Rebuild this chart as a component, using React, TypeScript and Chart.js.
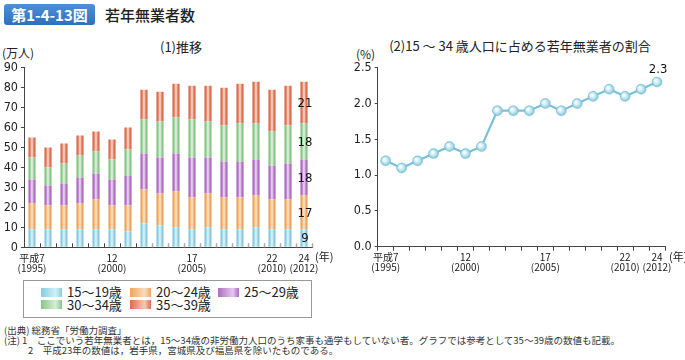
import React, { useEffect, useRef } from "react";
import { Chart, registerables } from "chart.js";

Chart.register(...registerables);

const years = ["1995","1996","1997","1998","1999","2000","2001","2002","2003","2004","2005","2006","2007","2008","2009","2010","2011","2012"];
const tickLabels: Record<number, string[]> = {
  0: ["平成7", "(1995)"],
  5: ["12", "(2000)"],
  10: ["17", "(2005)"],
  15: ["22", "(2010)"],
  17: ["24", "(2012)"],
};
const age15to19 = [9, 9, 9, 9, 9, 9, 8, 12, 11, 10, 9, 10, 9, 9, 10, 9, 9, 9];
const age20to24 = [13, 12, 12, 13, 15, 12, 13, 17, 16, 18, 16, 17, 16, 16, 16, 15, 15, 17];
const age25to29 = [12, 10, 11, 13, 13, 13, 15, 18, 18, 19, 20, 18, 18, 18, 18, 17, 18, 18];
const age30to34 = [11, 9, 10, 11, 11, 10, 13, 17, 18, 18, 19, 18, 18, 19, 18, 17, 19, 18];
const age35to39 = [10, 10, 10, 10, 10, 10, 11, 15, 15, 17, 17, 18, 19, 20, 21, 21, 20, 21];
const shareRate = [1.2, 1.1, 1.2, 1.3, 1.4, 1.3, 1.4, 1.9, 1.9, 1.9, 2.0, 1.9, 2.0, 2.1, 2.2, 2.1, 2.2, 2.3];

const seriesNames = ["15～19歳", "20～24歳", "25～29歳", "30～34歳", "35～39歳"];
const seriesColors = ["#86cde0", "#eea55e", "#ad6cbf", "#88c688", "#de6c4e"];
const seriesLight = ["#d2eef6", "#f9dcbc", "#e6c8ee", "#d4eed4", "#f5c8b8"];

const NUM_FONT = "'Liberation Sans Narrow', 'DejaVu Sans Condensed', 'Noto Sans', sans-serif";
const JP_FONT = "'Noto Sans CJK JP', 'Noto Sans', sans-serif";

function barGrad(i: number) {
  return (ctx: any) => {
    const chart = ctx.chart;
    const xs = chart.scales && chart.scales.x;
    if (!xs || ctx.type !== "data") return seriesColors[i];
    const cx = xs.getPixelForValue(ctx.dataIndex);
    if (!Number.isFinite(cx)) return seriesColors[i];
    const g = chart.ctx.createLinearGradient(cx - 3.6, 0, cx + 3.6, 0);
    g.addColorStop(0, seriesColors[i]);
    g.addColorStop(0.2, seriesColors[i]);
    g.addColorStop(0.42, seriesLight[i]);
    g.addColorStop(0.55, seriesLight[i]);
    g.addColorStop(0.8, seriesColors[i]);
    g.addColorStop(1, seriesColors[i]);
    return g;
  };
}

const barLabelPlugin = {
  id: "barLabels",
  afterDatasetsDraw(chart: any) {
    const c = chart.ctx;
    const last = years.length - 1;
    c.save();
    c.font = "13px " + NUM_FONT;
    c.fillStyle = "#111";
    c.textAlign = "center";
    c.textBaseline = "middle";
    chart.data.datasets.forEach((ds: any, di: number) => {
      const el = chart.getDatasetMeta(di).data[last];
      if (!el) return;
      c.fillText(String(ds.data[last]), el.x + 1, (el.y + el.base) / 2 + 1);
    });
    const xs = chart.scales.x;
    const bottom = chart.chartArea.bottom;
    for (let k = 1; k <= years.length; k++) {
      const px = Math.round(xs.getPixelForValue(k - 0.5)) + 0.5;
      c.strokeStyle = k <= 7 ? "#444" : "#aaa";
      c.lineWidth = k <= 7 ? 1 : 1.5;
      c.beginPath();
      c.moveTo(px, bottom);
      c.lineTo(px, bottom - 4);
      c.stroke();
    }
    c.restore();
  },
};

const lineLabelPlugin = {
  id: "lineLabel",
  afterDatasetsDraw(chart: any) {
    const c = chart.ctx;
    const last = shareRate.length - 1;
    const el = chart.getDatasetMeta(0).data[last];
    if (!el) return;
    c.save();
    c.font = "13px " + NUM_FONT;
    c.fillStyle = "#111";
    c.textAlign = "center";
    c.textBaseline = "bottom";
    c.fillText(shareRate[last].toFixed(1), el.x + 1, el.y - 6);
    c.restore();
  },
};

function pointGrad(ctx: any) {
  const chart = ctx.chart;
  const xs = chart.scales && chart.scales.x;
  const ys = chart.scales && chart.scales.y;
  if (!xs || !ys || ctx.type !== "data") return "#bfe6f2";
  const x = xs.getPixelForValue(ctx.dataIndex);
  const y = ys.getPixelForValue(shareRate[ctx.dataIndex]);
  if (!Number.isFinite(x) || !Number.isFinite(y)) return "#bfe6f2";
  const g = chart.ctx.createRadialGradient(x - 1.5, y - 1.5, 0.5, x, y, 5);
  g.addColorStop(0, "#ffffff");
  g.addColorStop(0.5, "#c6e9f4");
  g.addColorStop(1, "#7cc3d8");
  return g;
}

export default function App() {
  const leftRef = useRef<HTMLCanvasElement | null>(null);
  const rightRef = useRef<HTMLCanvasElement | null>(null);

  useEffect(() => {
    document.body.style.margin = "0";
    const axisColor = "#444";
    const left = new Chart(leftRef.current!, {
      type: "bar",
      data: {
        labels: years,
        datasets: [age15to19, age20to24, age25to29, age30to34, age35to39].map((d, i) => ({
          label: seriesNames[i],
          data: d,
          backgroundColor: barGrad(i),
          borderWidth: 0,
          barPercentage: 0.45,
          categoryPercentage: 1,
        })),
      },
      options: {
        animation: false,
        responsive: false,
        devicePixelRatio: 1,
        layout: { padding: { top: 27.7, right: 28, left: 0, bottom: 0 } },
        plugins: { legend: { display: false }, tooltip: { enabled: false } },
        scales: {
          x: {
            stacked: true,
            grid: { display: false, drawTicks: false },
            border: { display: true, color: axisColor, width: 1 },
            afterFit: (s: any) => { s.height = 27.7; },
            ticks: {
              autoSkip: false,
              maxRotation: 0,
              padding: 6,
              color: "#222",
              font: { size: 10, family: JP_FONT, lineHeight: 1.0 },
              callback: (_v: any, i: number) => tickLabels[i] || "",
            },
          },
          y: {
            stacked: true,
            min: 0,
            max: 90,
            grid: { display: true, drawOnChartArea: false, tickLength: 3, color: axisColor },
            border: { display: true, color: axisColor, width: 1 },
            afterFit: (s: any) => { s.width = 24; },
            ticks: { stepSize: 10, padding: 3, color: "#222", font: { size: 12.5, family: NUM_FONT } },
          },
        },
      },
      plugins: [barLabelPlugin],
    } as any);

    const right = new Chart(rightRef.current!, {
      type: "line",
      data: {
        labels: years,
        datasets: [
          {
            data: shareRate,
            borderColor: "#78c0d6",
            borderWidth: 2.2,
            pointRadius: 5,
            pointBorderWidth: 0.5,
            pointBorderColor: "#7ab8cc",
            pointBackgroundColor: pointGrad,
            tension: 0,
          },
        ],
      },
      options: {
        animation: false,
        responsive: false,
        devicePixelRatio: 1,
        layout: { padding: { top: 27.7, right: 20, left: 0, bottom: 0 } },
        plugins: { legend: { display: false }, tooltip: { enabled: false } },
        scales: {
          x: {
            offset: true,
            grid: { display: true, offset: true, drawOnChartArea: false, tickLength: 4, color: axisColor },
            border: { display: true, color: axisColor, width: 1 },
            afterFit: (s: any) => { s.height = 28.3; },
            ticks: {
              autoSkip: false,
              maxRotation: 0,
              padding: 2,
              color: "#222",
              font: { size: 10, family: JP_FONT, lineHeight: 1.0 },
              callback: (_v: any, i: number) => tickLabels[i] || "",
            },
          },
          y: {
            min: 0,
            max: 2.5,
            grid: { display: true, drawOnChartArea: false, tickLength: 3, color: axisColor },
            border: { display: true, color: axisColor, width: 1 },
            afterFit: (s: any) => { s.width = 37.7; },
            ticks: {
              stepSize: 0.5,
              padding: 3,
              color: "#222",
              font: { size: 12.5, family: NUM_FONT },
              callback: (v: any) => Number(v).toFixed(1),
            },
          },
        },
      },
      plugins: [lineLabelPlugin],
    } as any);

    return () => {
      left.destroy();
      right.destroy();
    };
  }, []);

  const abs = (l: number, t: number, extra: React.CSSProperties = {}): React.CSSProperties => ({
    position: "absolute",
    left: l,
    top: t,
    whiteSpace: "nowrap",
    fontFamily: JP_FONT,
    color: "#222",
    lineHeight: 1,
    ...extra,
  });

  const legendItems = [
    { i: 0, x: 41, y: 292 },
    { i: 1, x: 130, y: 292 },
    { i: 2, x: 218, y: 292 },
    { i: 3, x: 41, y: 304.5 },
    { i: 4, x: 130, y: 304.5 },
  ];

  return (
    <div style={{ position: "fixed", left: 0, top: 0, width: 685, height: 360, background: "#fff", overflow: "hidden" }}>
      <div
        style={abs(4, 4, {
          width: 91,
          height: 21,
          borderRadius: 3,
          background: "linear-gradient(#4d90d8, #2f6fbf)",
          color: "#fff",
          fontWeight: 700,
          fontSize: 15,
          display: "flex",
          alignItems: "center",
          justifyContent: "center",
        })}
      >
        第1-4-13図
      </div>
      <div style={abs(105, 7, { fontSize: 15, fontWeight: 500 })}>若年無業者数</div>
      <div style={abs(160, 40, { fontSize: 13 })}>(1)推移</div>
      <div style={abs(2, 47, { fontSize: 12 })}>(万人)</div>
      <div style={abs(520, 39, { fontSize: 13, transform: "translateX(-50%)" })}>(2)15 ～ 34 歳人口に占める若年無業者の割合</div>
      <div style={abs(356, 48, { fontSize: 12 })}>(%)</div>

      <canvas ref={leftRef} width={340} height={235} style={{ position: "absolute", left: 0, top: 40, width: 340, height: 235 }} />
      <canvas ref={rightRef} width={345} height={235} style={{ position: "absolute", left: 340, top: 40, width: 345, height: 235 }} />

      <div style={abs(315, 251, { fontSize: 11 })}>(年)</div>
      <div style={abs(669, 251, { fontSize: 11 })}>(年)</div>

      <div style={{ position: "absolute", left: 23, top: 280, width: 287, height: 36, border: "1px solid #999" }} />
      {legendItems.map((it) => (
        <React.Fragment key={it.i}>
          <div
            style={{
              position: "absolute",
              left: it.x,
              top: it.y - 4.5,
              width: 21,
              height: 9,
              background: `linear-gradient(to right, ${seriesColors[it.i]}, ${seriesLight[it.i]} 70%, ${seriesColors[it.i]})`,
            }}
          />
          <div style={abs(it.x + 26, it.y - 7, { fontSize: 13 })}>{seriesNames[it.i]}</div>
        </React.Fragment>
      ))}

      <div style={abs(4, 326, { fontSize: 9.5, color: "#333" })}>(出典) 総務省「労働力調査」</div>
      <div style={abs(4, 336, { fontSize: 9.5, color: "#333" })}>
        (注) 1　ここでいう若年無業者とは，15～34歳の非労働力人口のうち家事も通学もしていない者。グラフでは参考として35～39歳の数値も記載。
      </div>
      <div style={abs(28, 346, { fontSize: 9.5, color: "#333" })}>2　平成23年の数値は，岩手県，宮城県及び福島県を除いたものである。</div>
    </div>
  );
}
